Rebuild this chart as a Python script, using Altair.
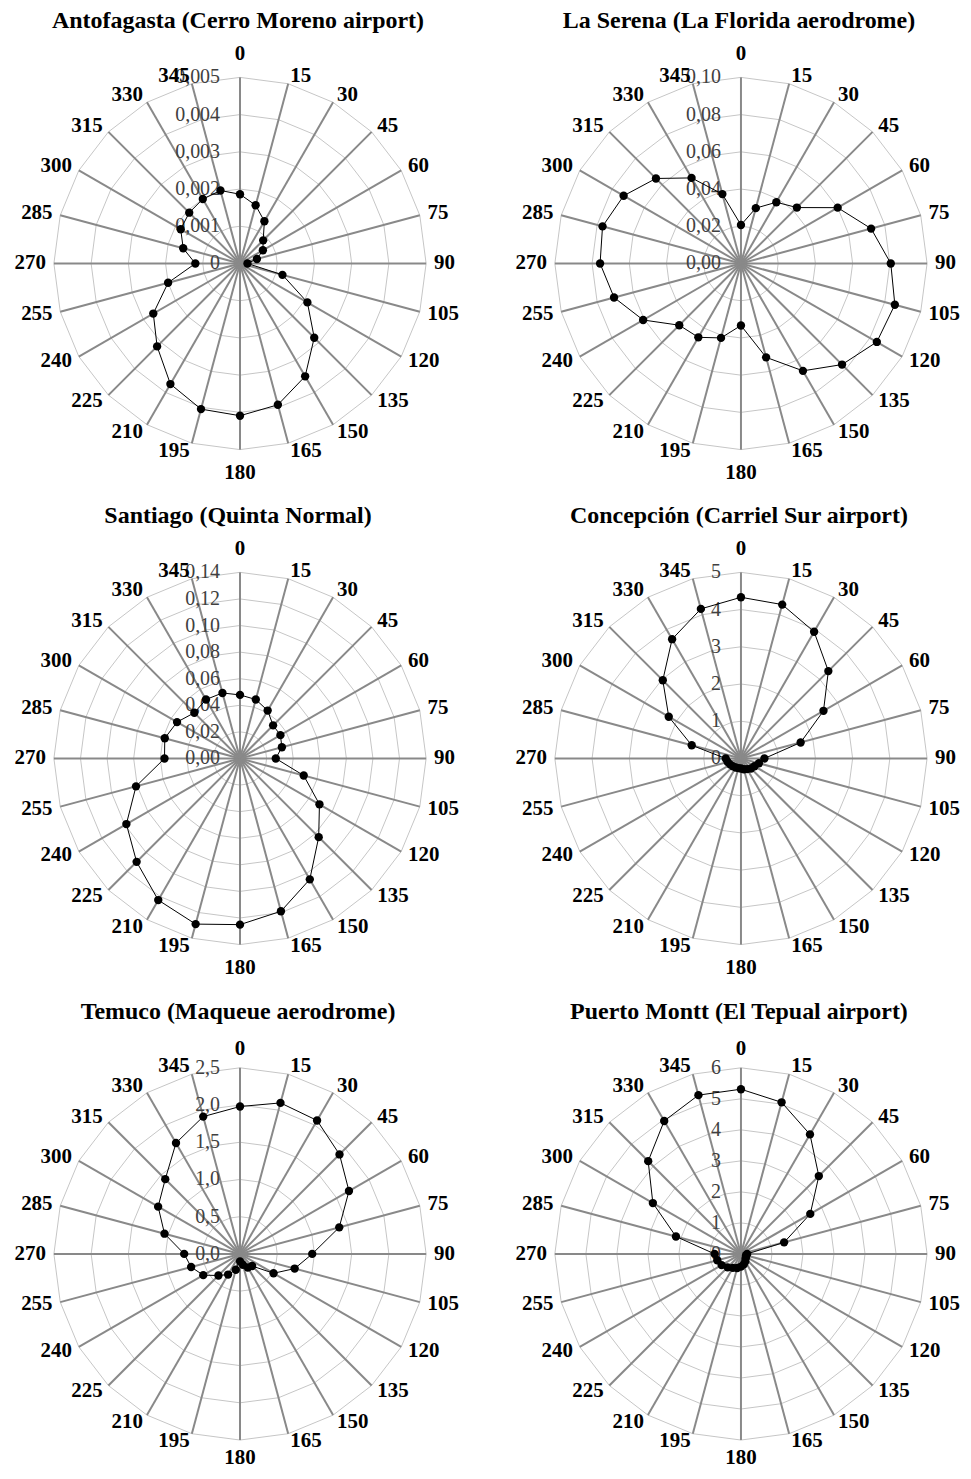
import altair as alt
import pandas as pd

# ---------------- data ----------------
ANGLES = list(range(0, 360, 15))
ANGLE_LABELS = [str(a) for a in ANGLES]

TITLES = [
    "Antofagasta (Cerro Moreno airport)",
    "La Serena (La Florida aerodrome)",
    "Santiago (Quinta Normal)",
    "Concepción (Carriel Sur airport)",
    "Temuco (Maqueue aerodrome)",
    "Puerto Montt (El Tepual airport)",
]

antofagasta = [0.00186, 0.00162, 0.00131, 0.00088, 0.00071, 0.00047, 0.00020, 0.00118,
               0.00209, 0.00282, 0.00350, 0.00393, 0.00409, 0.00405, 0.00374, 0.00315,
               0.00269, 0.00200, 0.00120, 0.00158, 0.00184, 0.00193, 0.00200, 0.00203]
la_serena = [0.0207, 0.0308, 0.0380, 0.0425, 0.0600, 0.0724, 0.0805, 0.0856,
             0.0843, 0.0768, 0.0666, 0.0522, 0.0333, 0.0414, 0.0458, 0.0469,
             0.0607, 0.0706, 0.0757, 0.0770, 0.0728, 0.0646, 0.0531, 0.0386]
santiago = [0.0478, 0.0459, 0.0416, 0.0352, 0.0351, 0.0326, 0.0269, 0.0496,
            0.0690, 0.0837, 0.1050, 0.1190, 0.1250, 0.1290, 0.1230, 0.1100,
            0.0987, 0.0810, 0.0568, 0.0586, 0.0547, 0.0486, 0.0512, 0.0510]
concepcion = [4.33, 4.28, 3.93, 3.32, 2.56, 1.66, 0.63, 0.50,
              0.42, 0.38, 0.33, 0.30, 0.27, 0.27, 0.28, 0.30,
              0.33, 0.37, 0.41, 1.37, 2.24, 2.97, 3.70, 4.16]
temuco = [1.98, 2.10, 2.07, 1.89, 1.69, 1.38, 0.97, 0.76,
          0.52, 0.23, 0.21, 0.15, 0.10, 0.22, 0.32, 0.41,
          0.57, 0.68, 0.75, 1.05, 1.27, 1.42, 1.72, 1.91]
puerto_montt = [5.31, 5.06, 4.45, 3.55, 2.58, 1.44, 0.20, 0.17,
                0.19, 0.21, 0.28, 0.35, 0.41, 0.47, 0.52, 0.61,
                0.72, 0.79, 0.85, 2.17, 3.28, 4.23, 4.95, 5.30]

ticks_1 = [0, 0.001, 0.002, 0.003, 0.004, 0.005]
tick_labels_1 = ["0", "0,001", "0,002", "0,003", "0,004", "0,005"]
ticks_2 = [0, 0.02, 0.04, 0.06, 0.08, 0.10]
tick_labels_2 = ["0,00", "0,02", "0,04", "0,06", "0,08", "0,10"]
ticks_3 = [0, 0.02, 0.04, 0.06, 0.08, 0.10, 0.12, 0.14]
tick_labels_3 = ["0,00", "0,02", "0,04", "0,06", "0,08", "0,10", "0,12", "0,14"]
ticks_4 = [0, 1, 2, 3, 4, 5]
tick_labels_4 = ["0", "1", "2", "3", "4", "5"]
ticks_5 = [0, 0.5, 1.0, 1.5, 2.0, 2.5]
tick_labels_5 = ["0,0", "0,5", "1,0", "1,5", "2,0", "2,5"]
ticks_6 = [0, 1, 2, 3, 4, 5, 6]
tick_labels_6 = ["0", "1", "2", "3", "4", "5", "6"]

# ---------------- layout / style ----------------
R = 186.5                 # outer ring radius in px
CX = 232.5                # centre x inside each panel
COL_W = [502, 455]
ROW_H = [496, 500, 460]
ROW_CY = [254.5, 254.5, 251]
ROW_VLAB = [210, 210, 205]   # radius of the 0 / 180 labels
FONT = "Liberation Serif"
SPOKE_COLOR = "#898989"
RING_COLOR = "#c6c6c6"


def panel(title, values, ticks, tick_labels, w, h, cy, vlab):
    top = ticks[-1]
    xs = alt.Scale(domain=[-CX / R, (w - CX) / R], nice=False, zero=False)
    ys = alt.Scale(domain=[-(h - cy) / R, cy / R], nice=False, zero=False)
    X = alt.X("px:Q", scale=xs, axis=None)
    Y = alt.Y("py:Q", scale=ys, axis=None)

    def polar(ch, rexpr):
        return ch.transform_calculate(
            px=f"({rexpr}) * sin(datum.angle * PI / 180)",
            py=f"({rexpr}) * cos(datum.angle * PI / 180)",
        )

    series = pd.DataFrame({"angle": ANGLES, "value": values})
    rings = pd.DataFrame([{"tick": t, "angle": a} for t in ticks[1:] for a in ANGLES])
    spokes = pd.DataFrame({"angle": ANGLES})
    alabels = pd.DataFrame({"angle": ANGLES, "label": ANGLE_LABELS})
    tlabels = pd.DataFrame({"tick": ticks, "label": tick_labels, "angle": [0] * len(ticks)})
    tdf = pd.DataFrame({"t": [title]})

    ring_layer = polar(alt.Chart(rings), f"datum.tick / {top}").mark_line(
        interpolate="linear-closed", color=RING_COLOR, strokeWidth=1
    ).encode(x=X, y=Y, detail="tick:N", order="angle:Q")

    spoke_layer = polar(alt.Chart(spokes), "1").transform_calculate(zero="0").mark_rule(
        color=SPOKE_COLOR, strokeWidth=2
    ).encode(x=alt.X("zero:Q", scale=xs, axis=None), y=alt.Y("zero:Q", scale=ys, axis=None),
             x2="px:Q", y2="py:Q")

    tick_layer = polar(alt.Chart(tlabels), f"datum.tick / {top}").mark_text(
        align="right", baseline="middle", dx=-20, font=FONT, fontSize=20, color="#404040"
    ).encode(x=X, y=Y, text="label:N")

    line_layer = polar(alt.Chart(series), f"datum.value / {top}").mark_line(
        interpolate="linear-closed", color="black", strokeWidth=1
    ).encode(x=X, y=Y, order="angle:Q")

    point_layer = polar(alt.Chart(series), f"datum.value / {top}").mark_circle(
        size=70, color="black", opacity=1
    ).encode(x=X, y=Y)

    lab_kw = dict(baseline="middle", font=FONT, fontSize=21, fontWeight="bold", color="black")
    left_lab = polar(alt.Chart(alabels), f"{(R + 8) / R}").transform_filter(
        "datum.angle > 0 && datum.angle < 180").mark_text(align="left", **lab_kw).encode(
        x=X, y=Y, text="label:N")
    right_lab = polar(alt.Chart(alabels), f"{(R + 8) / R}").transform_filter(
        "datum.angle > 180").mark_text(align="right", **lab_kw).encode(
        x=X, y=Y, text="label:N")
    mid_lab = polar(alt.Chart(alabels), f"{vlab / R}").transform_filter(
        "datum.angle == 0 || datum.angle == 180").mark_text(align="center", **lab_kw).encode(
        x=X, y=Y, text="label:N")

    title_layer = alt.Chart(tdf).mark_text(
        align="center", baseline="alphabetic", font=FONT, fontSize=24, fontWeight="bold",
        color="black"
    ).encode(x=alt.value(CX - 2), y=alt.value(cy - 235.5), text="t:N")

    return alt.layer(
        ring_layer, spoke_layer, tick_layer, line_layer, point_layer,
        left_lab, right_lab, mid_lab, title_layer
    ).properties(width=w, height=h)


specs = [
    (TITLES[0], antofagasta, ticks_1, tick_labels_1),
    (TITLES[1], la_serena, ticks_2, tick_labels_2),
    (TITLES[2], santiago, ticks_3, tick_labels_3),
    (TITLES[3], concepcion, ticks_4, tick_labels_4),
    (TITLES[4], temuco, ticks_5, tick_labels_5),
    (TITLES[5], puerto_montt, ticks_6, tick_labels_6),
]
panels = []
for i, (t, v, tk, tl) in enumerate(specs):
    r, c = divmod(i, 2)
    panels.append(panel(t, v, tk, tl, COL_W[c], ROW_H[r], ROW_CY[r], ROW_VLAB[r]))

chart = alt.concat(*panels, columns=2, spacing=0, bounds="flush").properties(
    padding=0, background="white"
).configure_view(stroke=None)

chart.save("out.html", embed_options={"renderer": "svg", "actions": False})
